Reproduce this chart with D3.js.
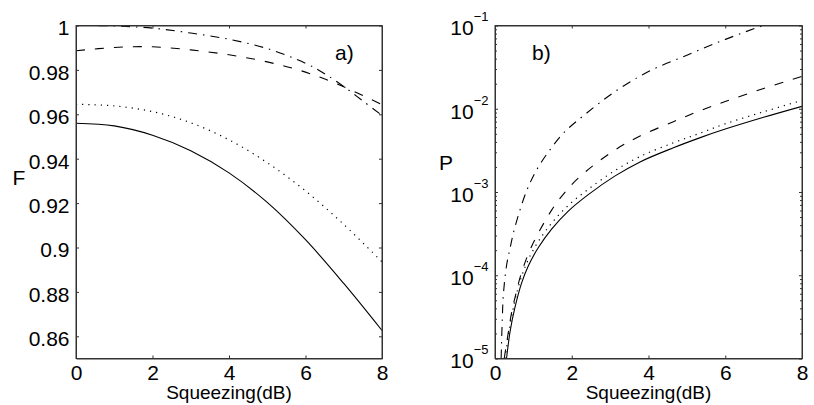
<!DOCTYPE html>
<html>
<head>
<meta charset="utf-8">
<script src="https://cdn.jsdelivr.net/npm/d3@7"></script>
<style>
  html, body { margin: 0; padding: 0; background: #fff; }
  svg { display: block; font-family: "Liberation Sans", Arial, sans-serif; }
</style>
</head>
<body>
<div id="chart"></div>
<script>
// panel a) fidelity F vs squeezing
const fX = [0, 1, 2, 3, 4, 5, 6, 7, 8];
const fSolid = [0.956, 0.9548, 0.9506, 0.9436, 0.9336, 0.9203, 0.9035, 0.8838, 0.8626];
const fDotted = [0.9645, 0.9638, 0.9612, 0.9562, 0.9485, 0.9382, 0.9255, 0.9104, 0.8935];
const fDashed = [0.9886, 0.9901, 0.9904, 0.989, 0.9868, 0.9836, 0.979, 0.9724, 0.9643];
const fDashDotX = [0, 1, 2, 3, 4, 5, 6, 6.5, 7, 7.5, 8];
const fDashDot = [1.0, 0.9998, 0.9988, 0.9966, 0.9938, 0.9896, 0.983, 0.9783, 0.9725, 0.966, 0.9595];
const fTicks = [0.86, 0.88, 0.9, 0.92, 0.94, 0.96, 0.98, 1];

// panel b) probability P vs squeezing (log)
const pSolidX = [0.30, 0.40, 0.52, 0.69, 0.87, 1.13, 1.48, 1.91, 2.43, 3.12, 3.78, 4.65, 5.35, 6, 7, 8];
const pSolid = [1e-5, 2.2e-5, 4.1e-5, 8e-5, 1.3e-4, 2.15e-4, 3.6e-4, 5.9e-4, 9.3e-4, 1.55e-3, 2.3e-3, 3.4e-3, 4.5e-3, 5.7e-3, 7.9e-3, 1.07e-2];
const pDottedX = [0.26, 0.40, 0.52, 0.69, 0.87, 1.13, 1.48, 1.91, 2.43, 3.12, 3.78, 4.65, 5.35, 6, 7, 8];
const pDotted = [1e-5, 2.6e-5, 5e-5, 9.6e-5, 1.55e-4, 2.55e-4, 4.25e-4, 6.9e-4, 1.08e-3, 1.8e-3, 2.67e-3, 3.9e-3, 5.1e-3, 6.6e-3, 9.2e-3, 1.26e-2];
const pDashedX = [0.24, 0.29, 0.35, 0.43, 0.56, 0.69, 0.95, 1.48, 1.79, 2.17, 3.08, 3.78, 4.65, 5.3, 6, 7, 8];
const pDashed = [1e-5, 1.4e-5, 2.1e-5, 3.5e-5, 6.4e-5, 1.07e-4, 2.2e-4, 6.1e-4, 9.5e-4, 1.47e-3, 3.1e-3, 4.7e-3, 7.0e-3, 9.3e-3, 1.22e-2, 1.75e-2, 2.45e-2];
const pDashDotX = [0.16, 0.19, 0.22, 0.30, 0.40, 0.52, 0.82, 1.09, 1.43, 1.82, 2.34, 3.12, 4, 5, 6, 7, 8];
const pDashDot = [1e-5, 3e-5, 6e-5, 1.3e-4, 2.2e-4, 3.8e-4, 1.02e-3, 1.86e-3, 3.2e-3, 5.3e-3, 8.5e-3, 1.6e-2, 2.8e-2, 4.4e-2, 6.8e-2, 1.0e-1, 1.35e-1];
const pMajor = [1e-5, 1e-4, 1e-3, 1e-2, 1e-1];
const pExp = ["-5", "-4", "-3", "-2", "-1"];

const xTicks = [0, 2, 4, 6, 8];

const width = 814, height = 405;
const axisColor = "#333";
const styles = {
    solid: null,
    dotted: "1.2,5",
    dashed: "9,10",
    dashdot: "9,6,1.5,6"
};

const svg = d3.select("#chart").append("svg")
    .attr("width", width)
    .attr("height", height);

function zip(xs, ys) {
    return xs.map((x, i) => [x, ys[i]]);
}

function drawPanel(opts) {
    const g = svg.append("g");
    const x = d3.scaleLinear().domain([0, 8]).range([opts.left, opts.right]);
    const y = opts.y;

    // clip
    g.append("clipPath").attr("id", opts.id + "-clip")
        .append("rect")
        .attr("x", opts.left).attr("y", opts.top)
        .attr("width", opts.right - opts.left).attr("height", opts.bottom - opts.top);

    const line = d3.line()
        .x(d => x(d[0]))
        .y(d => y(d[1]))
        .curve(d3.curveCatmullRom.alpha(0.5));

    const lines = g.append("g").attr("clip-path", `url(#${opts.id}-clip)`);
    opts.series.forEach(s => {
        lines.append("path")
            .attr("d", line(zip(s.x, s.y)))
            .attr("fill", "none")
            .attr("stroke", "#000")
            .attr("stroke-width", s.style === "dotted" ? 1.2 : 1.1)
            .attr("stroke-dasharray", styles[s.style]);
    });

    // box axes with inward ticks
    const bottom = g.append("g").attr("transform", `translate(0,${opts.bottom})`)
        .call(d3.axisBottom(x).tickValues(xTicks).tickSizeInner(-3).tickSizeOuter(0).tickPadding(0));
    bottom.selectAll("text").attr("y", 21.5).attr("dy", null);
    g.append("g").attr("transform", `translate(0,${opts.top})`)
        .call(d3.axisTop(x).tickValues(xTicks).tickSizeInner(-3).tickSizeOuter(0).tickFormat(""));

    const left = g.append("g").attr("transform", `translate(${opts.left},0)`)
        .call(d3.axisLeft(y).tickValues(opts.yTicks).tickSizeInner(-3).tickSizeOuter(0)
            .tickPadding(6.5).tickFormat(opts.yFormat));
    left.selectAll("text").attr("dy", "9.3px");
    g.append("g").attr("transform", `translate(${opts.right},0)`)
        .call(d3.axisRight(y).tickValues(opts.yTicks).tickSizeInner(-3).tickSizeOuter(0).tickFormat(""));

    if (opts.minor) {
        g.append("g").attr("transform", `translate(${opts.left},0)`)
            .call(d3.axisLeft(y).tickValues(opts.minor).tickSizeInner(-2).tickSizeOuter(0).tickFormat(""));
        g.append("g").attr("transform", `translate(${opts.right},0)`)
            .call(d3.axisRight(y).tickValues(opts.minor).tickSizeInner(-2).tickSizeOuter(0).tickFormat(""));
    }

    g.selectAll(".domain, .tick line").attr("stroke", axisColor).attr("stroke-width", 1);
    g.selectAll(".tick text").attr("fill", "#000").attr("font-size", 21)
        .attr("font-family", "Liberation Sans, Arial, sans-serif");
    // close the box
    g.append("rect")
        .attr("x", opts.left).attr("y", opts.top)
        .attr("width", opts.right - opts.left).attr("height", opts.bottom - opts.top)
        .attr("fill", "none").attr("stroke", axisColor).attr("stroke-width", 1);

    if (opts.after) opts.after(left);

    g.append("text")
        .attr("x", (opts.left + opts.right) / 2).attr("y", 399)
        .attr("text-anchor", "middle").attr("font-size", 19)
        .text("Squeezing(dB)");
    g.append("text")
        .attr("x", opts.yLabelX).attr("y", opts.yLabelY)
        .attr("text-anchor", "middle").attr("font-size", 21)
        .text(opts.yLabel);
    g.append("text")
        .attr("x", opts.tagX).attr("y", 60)
        .attr("font-size", 21)
        .text(opts.tag);
}

// panel a
drawPanel({
    id: "a",
    left: 76, right: 382, top: 25.5, bottom: 358.5,
    y: d3.scaleLinear().domain([0.85, 1]).range([358.5, 25.5]),
    yTicks: fTicks,
    yFormat: d => String(+d.toFixed(2)),
    series: [
        { x: fX, y: fSolid, style: "solid" },
        { x: fX, y: fDotted, style: "dotted" },
        { x: fX, y: fDashed, style: "dashed" },
        { x: fDashDotX, y: fDashDot, style: "dashdot" }
    ],
    yLabel: "F", yLabelX: 19, yLabelY: 185,
    tag: "a)", tagX: 335
});

// minor log ticks 2..9 per decade
const pMinor = [];
pMajor.slice(0, -1).forEach(m => {
    for (let k = 2; k <= 9; k++) pMinor.push(m * k);
});

drawPanel({
    id: "b",
    left: 495, right: 802, top: 25.5, bottom: 358.5,
    y: d3.scaleLog().domain([1e-5, 1e-1]).range([358.5, 25.5]),
    yTicks: pMajor,
    yFormat: () => "",
    minor: pMinor,
    series: [
        { x: pSolidX, y: pSolid, style: "solid" },
        { x: pDottedX, y: pDotted, style: "dotted" },
        { x: pDashedX, y: pDashed, style: "dashed" },
        { x: pDashDotX, y: pDashDot, style: "dashdot" }
    ],
    after: left => {
        // 10 with superscript exponent
        left.selectAll(".tick text").each(function (d, i) {
            const t = d3.select(this);
            t.append("tspan").text("10");
            t.append("tspan").attr("font-size", 13).attr("dy", "-14px")
                .text("\u2212" + pExp[i].slice(1));
        });
    },
    yLabel: "P", yLabelX: 446, yLabelY: 170,
    tag: "b)", tagX: 532
});
</script>
</body>
</html>
